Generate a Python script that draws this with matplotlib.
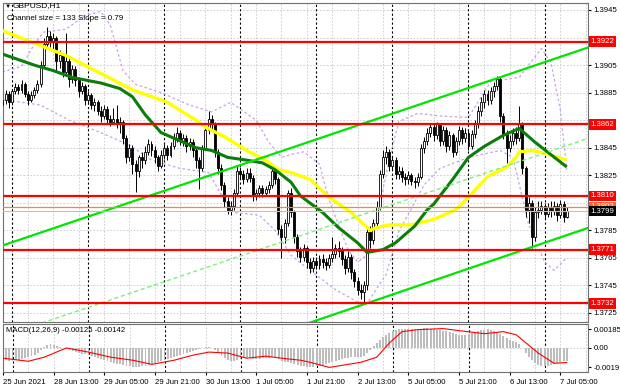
import numpy as np
import matplotlib
matplotlib.use("Agg")
import matplotlib.pyplot as plt
import matplotlib.transforms as mtransforms

plt.rcParams['font.family'] = ['Liberation Sans', 'DejaVu Sans']

# GBPUSD H1 bars, 25 Jun 2021 21:00 .. 7 Jul 2021 07:00
opens = [1.3876, 1.3880, 1.3884, 1.3878, 1.3886, 1.3889, 1.3887, 1.3891, 1.3884, 1.3880,
         1.3883, 1.3887, 1.3891, 1.3905, 1.3920, 1.3926, 1.3922, 1.3925, 1.3908, 1.3912,
         1.3900, 1.3908, 1.3895, 1.3902, 1.3894, 1.3886, 1.3890, 1.3880, 1.3883, 1.3876,
         1.3878, 1.3872, 1.3868, 1.3873, 1.3866, 1.3864, 1.3866, 1.3862, 1.3864, 1.3852,
         1.3838, 1.3845, 1.3833, 1.3828, 1.3838, 1.3836, 1.3842, 1.3848, 1.3843, 1.3838,
         1.3832, 1.3840, 1.3845, 1.3840, 1.3846, 1.3852, 1.3856, 1.3850, 1.3852, 1.3846,
         1.3849, 1.3843, 1.3836, 1.3830, 1.3845, 1.3858, 1.3866, 1.3862, 1.3842, 1.3830,
         1.3818, 1.3806, 1.3800, 1.3803, 1.3812, 1.3828, 1.3826, 1.3822, 1.3827, 1.3823,
         1.3810, 1.3812, 1.3816, 1.3812, 1.3815, 1.3818, 1.3828, 1.3822, 1.3786, 1.3780,
         1.3790, 1.3812, 1.3798, 1.3780, 1.3770, 1.3766, 1.3772, 1.3762, 1.3758, 1.3763,
         1.3760, 1.3764, 1.3762, 1.3760, 1.3765, 1.3768, 1.3772, 1.3770, 1.3764, 1.3758,
         1.3766, 1.3755, 1.3748, 1.3742, 1.3740, 1.3745, 1.3784, 1.3778, 1.3790, 1.3802,
         1.3826, 1.3838, 1.3842, 1.3832, 1.3836, 1.3826, 1.3828, 1.3824, 1.3822, 1.3825,
         1.3821, 1.3820, 1.3824, 1.3845, 1.3850, 1.3856, 1.3860, 1.3854, 1.3862, 1.3850,
         1.3858, 1.3846, 1.3854, 1.3842, 1.3850, 1.3858, 1.3852, 1.3856, 1.3846, 1.3855,
         1.3862, 1.3872, 1.3878, 1.3884, 1.3880, 1.3886, 1.3890, 1.3895, 1.3868, 1.3855,
         1.3845, 1.3850, 1.3856, 1.3852, 1.3862, 1.3830, 1.3800, 1.3805, 1.3780, 1.3798,
         1.3800, 1.3803, 1.3797, 1.3802, 1.3799, 1.3803, 1.3796, 1.3804, 1.3795]
highs = [1.3884, 1.3887, 1.3886, 1.3888, 1.3892, 1.3891, 1.3894, 1.3893, 1.3886, 1.3886,
         1.3889, 1.3894, 1.3908, 1.3925, 1.3933, 1.3930, 1.3928, 1.3926, 1.3916, 1.3914,
         1.3928, 1.3910, 1.3905, 1.3904, 1.3896, 1.3893, 1.3891, 1.3886, 1.3885, 1.3881,
         1.3880, 1.3875, 1.3876, 1.3875, 1.3869, 1.3874, 1.3876, 1.3867, 1.3865, 1.3854,
         1.3848, 1.3847, 1.3836, 1.3840, 1.3842, 1.3846, 1.3851, 1.3850, 1.3846, 1.3840,
         1.3843, 1.3848, 1.3847, 1.3849, 1.3856, 1.3860, 1.3858, 1.3855, 1.3854, 1.3852,
         1.3851, 1.3845, 1.3838, 1.3847, 1.3861, 1.3872, 1.3869, 1.3864, 1.3844, 1.3833,
         1.3820, 1.3809, 1.3806, 1.3815, 1.3832, 1.3831, 1.3829, 1.3830, 1.3830, 1.3825,
         1.3815, 1.3818, 1.3818, 1.3817, 1.3821, 1.3832, 1.3830, 1.3824, 1.3789, 1.3793,
         1.3814, 1.3816, 1.3800, 1.3782, 1.3773, 1.3775, 1.3774, 1.3765, 1.3766, 1.3766,
         1.3767, 1.3768, 1.3765, 1.3768, 1.3780, 1.3775, 1.3777, 1.3773, 1.3767, 1.3770,
         1.3768, 1.3757, 1.3751, 1.3746, 1.3748, 1.3787, 1.3788, 1.3793, 1.3806, 1.3829,
         1.3843, 1.3846, 1.3844, 1.3839, 1.3838, 1.3832, 1.3831, 1.3827, 1.3828, 1.3827,
         1.3824, 1.3827, 1.3848, 1.3853, 1.3859, 1.3863, 1.3862, 1.3864, 1.3863, 1.3861,
         1.3860, 1.3857, 1.3856, 1.3853, 1.3861, 1.3860, 1.3859, 1.3858, 1.3858, 1.3865,
         1.3875, 1.3882, 1.3887, 1.3887, 1.3889, 1.3893, 1.3897, 1.3896, 1.3870, 1.3858,
         1.3854, 1.3859, 1.3860, 1.3875, 1.3864, 1.3832, 1.3809, 1.3807, 1.3802, 1.3806,
         1.3806, 1.3805, 1.3805, 1.3806, 1.3806, 1.3805, 1.3807, 1.3806, 1.3802]
lows = [1.3872, 1.3877, 1.3874, 1.3876, 1.3884, 1.3884, 1.3885, 1.3882, 1.3876, 1.3878,
        1.3881, 1.3885, 1.3889, 1.3903, 1.3917, 1.3918, 1.3915, 1.3900, 1.3903, 1.3896,
        1.3898, 1.3889, 1.3892, 1.3890, 1.3882, 1.3884, 1.3876, 1.3877, 1.3873, 1.3872,
        1.3869, 1.3864, 1.3866, 1.3862, 1.3861, 1.3862, 1.3859, 1.3856, 1.3848, 1.3834,
        1.3835, 1.3826, 1.3813, 1.3824, 1.3830, 1.3833, 1.3840, 1.3839, 1.3834, 1.3828,
        1.3830, 1.3837, 1.3836, 1.3838, 1.3844, 1.3849, 1.3847, 1.3846, 1.3842, 1.3843,
        1.3838, 1.3830, 1.3815, 1.3828, 1.3843, 1.3855, 1.3857, 1.3838, 1.3826, 1.3814,
        1.3802, 1.3797, 1.3796, 1.3800, 1.3810, 1.3822, 1.3819, 1.3820, 1.3820, 1.3806,
        1.3807, 1.3809, 1.3809, 1.3810, 1.3812, 1.3816, 1.3819, 1.3782, 1.3765, 1.3776,
        1.3788, 1.3795, 1.3776, 1.3766, 1.3762, 1.3763, 1.3758, 1.3754, 1.3755, 1.3757,
        1.3757, 1.3758, 1.3756, 1.3758, 1.3762, 1.3765, 1.3766, 1.3760, 1.3753, 1.3755,
        1.3750, 1.3744, 1.3738, 1.3735, 1.3732, 1.3742, 1.3772, 1.3775, 1.3787, 1.3800,
        1.3823, 1.3833, 1.3828, 1.3829, 1.3822, 1.3822, 1.3820, 1.3818, 1.3819, 1.3818,
        1.3816, 1.3817, 1.3822, 1.3841, 1.3847, 1.3853, 1.3850, 1.3851, 1.3846, 1.3847,
        1.3842, 1.3843, 1.3838, 1.3840, 1.3847, 1.3848, 1.3849, 1.3843, 1.3844, 1.3852,
        1.3859, 1.3868, 1.3874, 1.3876, 1.3877, 1.3882, 1.3887, 1.3864, 1.3851, 1.3834,
        1.3842, 1.3847, 1.3848, 1.3850, 1.3826, 1.3795, 1.3790, 1.3772, 1.3777, 1.3794,
        1.3797, 1.3794, 1.3795, 1.3795, 1.3796, 1.3792, 1.3794, 1.3791, 1.3794]
closes = [1.3880, 1.3884, 1.3878, 1.3886, 1.3889, 1.3887, 1.3891, 1.3884, 1.3880, 1.3883,
          1.3887, 1.3891, 1.3905, 1.3920, 1.3926, 1.3922, 1.3925, 1.3908, 1.3912, 1.3900,
          1.3908, 1.3895, 1.3902, 1.3894, 1.3886, 1.3890, 1.3880, 1.3883, 1.3876, 1.3878,
          1.3872, 1.3868, 1.3873, 1.3866, 1.3864, 1.3866, 1.3862, 1.3864, 1.3852, 1.3838,
          1.3845, 1.3833, 1.3828, 1.3838, 1.3836, 1.3842, 1.3848, 1.3843, 1.3838, 1.3832,
          1.3840, 1.3845, 1.3840, 1.3846, 1.3852, 1.3856, 1.3850, 1.3852, 1.3846, 1.3849,
          1.3843, 1.3836, 1.3830, 1.3845, 1.3858, 1.3866, 1.3862, 1.3842, 1.3830, 1.3818,
          1.3806, 1.3800, 1.3803, 1.3812, 1.3828, 1.3826, 1.3822, 1.3827, 1.3823, 1.3810,
          1.3812, 1.3816, 1.3812, 1.3815, 1.3818, 1.3828, 1.3822, 1.3786, 1.3780, 1.3790,
          1.3812, 1.3798, 1.3780, 1.3770, 1.3766, 1.3772, 1.3762, 1.3758, 1.3763, 1.3760,
          1.3764, 1.3762, 1.3760, 1.3765, 1.3768, 1.3772, 1.3770, 1.3764, 1.3758, 1.3766,
          1.3755, 1.3748, 1.3742, 1.3740, 1.3745, 1.3784, 1.3778, 1.3790, 1.3802, 1.3826,
          1.3838, 1.3842, 1.3832, 1.3836, 1.3826, 1.3828, 1.3824, 1.3822, 1.3825, 1.3821,
          1.3820, 1.3824, 1.3845, 1.3850, 1.3856, 1.3860, 1.3854, 1.3862, 1.3850, 1.3858,
          1.3846, 1.3854, 1.3842, 1.3850, 1.3858, 1.3852, 1.3856, 1.3846, 1.3855, 1.3862,
          1.3872, 1.3878, 1.3884, 1.3880, 1.3886, 1.3890, 1.3895, 1.3868, 1.3855, 1.3845,
          1.3850, 1.3856, 1.3852, 1.3862, 1.3830, 1.3800, 1.3805, 1.3780, 1.3798, 1.3800,
          1.3803, 1.3797, 1.3802, 1.3799, 1.3803, 1.3796, 1.3804, 1.3795, 1.3799]

# moving averages (bar index, price)
slow_ma_idx = [0, 20, 31, 41, 52, 61, 64, 70, 77, 83, 87, 91, 97, 103, 110, 116, 118,
               122, 129, 136, 143, 147, 153, 159, 162, 163, 167, 171, 178]
slow_ma = [1.3930, 1.3912, 1.3899, 1.3887, 1.3878, 1.3865, 1.3860, 1.3853, 1.3843, 1.3836,
           1.3829, 1.3827, 1.3822, 1.3809, 1.3798, 1.3785, 1.3787, 1.3789, 1.3789, 1.3793,
           1.3800, 1.3809, 1.3824, 1.3831, 1.3838, 1.3842, 1.3843, 1.3841, 1.3836]
fast_ma_idx = [0, 10, 16, 22, 31, 37, 41, 45, 50, 55, 61, 66, 71, 77, 82, 86, 91, 94,
               101, 106, 112, 115, 120, 124, 130, 134, 136, 142, 147, 152, 158, 162,
               163, 168, 173, 178]
fast_ma = [1.3913, 1.3905, 1.3901, 1.3896, 1.3892, 1.3888, 1.3882, 1.3869, 1.3856, 1.3851,
           1.3845, 1.3843, 1.3838, 1.3836, 1.3834, 1.3829, 1.3820, 1.3810, 1.3798, 1.3787,
           1.3776, 1.3769, 1.3771, 1.3776, 1.3788, 1.3800, 1.3804, 1.3822, 1.3838, 1.3846,
           1.3854, 1.3858, 1.3859, 1.3849, 1.3840, 1.3831]

# envelope bands (dotted purple)
band_up_idx = [0, 6, 10, 13, 20, 26, 31, 34, 38, 42, 50, 59, 66, 72, 80, 84, 88, 91, 95,
               100, 103, 109, 112, 115, 118, 122, 125, 131, 138, 147, 154, 163, 170, 173,
               176, 178]
band_up = [1.3900, 1.3904, 1.3920, 1.3929, 1.3931, 1.3941, 1.3944, 1.3934, 1.3901, 1.3891,
           1.3885, 1.3876, 1.3871, 1.3878, 1.3865, 1.3849, 1.3838, 1.3840, 1.3842, 1.3833,
           1.3807, 1.3771, 1.3762, 1.3767, 1.3793, 1.3836, 1.3864, 1.3870, 1.3868, 1.3867,
           1.3893, 1.3896, 1.3917, 1.3907, 1.3872, 1.3829]
band_lo_idx = [0, 12, 21, 31, 40, 47, 56, 65, 70, 73, 81, 86, 91, 97, 105, 112, 115, 121,
               125, 133, 138, 147, 157, 161, 166, 171, 174, 178]
band_lo = [1.3880, 1.3876, 1.3865, 1.3856, 1.3847, 1.3836, 1.3830, 1.3827, 1.3807, 1.3798,
           1.3796, 1.3785, 1.3767, 1.3756, 1.3742, 1.3733, 1.3732, 1.3753, 1.3784, 1.3818,
           1.3830, 1.3838, 1.3843, 1.3838, 1.3789, 1.3762, 1.3756, 1.3765]

# equidistant channel anchors (bar index, price)
channel_idx = [0, 185]
channel_upper = [1.3774, 1.3918]
channel_mid = [1.3708, 1.3852]
channel_lower = [1.3642, 1.3787]

levels = [1.3922, 1.3862, 1.3810, 1.3771, 1.3732]
ask_price = 1.3802
bid_price = 1.3799

# MACD(12,26,9)
macd_main = [-0.0012, -0.0012, -0.0013, -0.0013, -0.0012, -0.0012, -0.0011, -0.0010, -0.0009,
             -0.0008, -0.0007, -0.0005, -0.0002,
             0.0001, 0.0003, 0.0004, 0.0003, 0.0002,
             0.0001, 0.0000, -0.0001, -0.0002, -0.0003,
             -0.0004, -0.0005, -0.0006, -0.0006, -0.0007,
             -0.0008, -0.0009, -0.0010, -0.0011, -0.0012, -0.0013, -0.0014, -0.0015,
             -0.0016, -0.0016, -0.0017, -0.0018, -0.0018, -0.0019, -0.0019, -0.0019, -0.0018,
             -0.0018, -0.0017, -0.0016, -0.0015,
             -0.0014, -0.0013, -0.0012, -0.0011, -0.0010, -0.0009, -0.0008, -0.0007, -0.0006,
             -0.0005, -0.0004, -0.0003, -0.0002,
             -0.0001, 0.0000, 0.0001, 0.0001, 0.0000, -0.0002, -0.0005,
             -0.0008, -0.0010, -0.0012, -0.0013, -0.0013, -0.0012, -0.0011,
             -0.0010, -0.0010, -0.0010, -0.0011, -0.0011, -0.0011, -0.0010, -0.0010, -0.0010,
             -0.0009, -0.0009, -0.0011, -0.0013, -0.0014, -0.0014,
             -0.0015, -0.0016, -0.0017, -0.0018, -0.0018, -0.0019, -0.0019, -0.0019, -0.0018,
             -0.0018,
             -0.0017, -0.0016, -0.0015, -0.0014, -0.0013, -0.0012, -0.0011, -0.0010, -0.0010,
             -0.0009, -0.0009,
             -0.0009, -0.0009, -0.0008, -0.0005,
             -0.0002, 0.0002, 0.0005, 0.0008, 0.0011, 0.0013, 0.0015,
             0.0017, 0.0018, 0.0019, 0.0019, 0.0019, 0.0019, 0.0019, 0.0019,
             0.0019, 0.0019, 0.0020, 0.0020, 0.0019, 0.0019, 0.0018, 0.0018, 0.0017, 0.0017,
             0.0016, 0.0015, 0.0014, 0.0013, 0.0013, 0.0013, 0.0014,
             0.0015, 0.0016, 0.0017, 0.0018, 0.0018, 0.0019, 0.0018, 0.0017,
             0.0016, 0.0014, 0.0012, 0.0010, 0.0008, 0.0007, 0.0006,
             0.0004, 0.0000, -0.0005, -0.0009, -0.0012, -0.0015,
             -0.0017, -0.0018, -0.0018, -0.0018, -0.0017, -0.0016, -0.0015, -0.0014, -0.0013,
             -0.00125]
signal_idx = [0, 8, 13, 20, 27, 34, 41, 47, 54, 60, 65, 71, 77, 83, 88, 94, 97, 103, 113,
              118, 122, 126, 131, 139, 144, 152, 158, 162, 169, 174, 178]
signal = [-0.0010, -0.0013, -0.0009, 0.0000, -0.0004, -0.0009, -0.0012, -0.0016, -0.0012,
          -0.0007, -0.0004, -0.0005, -0.0010, -0.0008, -0.0010, -0.0012, -0.0014, -0.0019,
          -0.0014, -0.0009, 0.0005, 0.0016, 0.0018, 0.0019, 0.0017, 0.0014, 0.0016, 0.0013,
          -0.0005, -0.0015, -0.00142]

day_starts = [3, 27, 51, 75, 99, 123, 147, 171]
time_tick_idx = [0, 16, 32, 48, 64, 80, 96, 112, 128, 144, 160, 176]
time_tick_labels = ["25 Jun 2021", "28 Jun 13:00", "29 Jun 05:00", "29 Jun 21:00",
                    "30 Jun 13:00", "1 Jul 05:00", "1 Jul 21:00", "2 Jul 13:00",
                    "5 Jul 05:00", "5 Jul 21:00", "6 Jul 13:00", "7 Jul 05:00"]
price_ticks = [1.3725, 1.3745, 1.3765, 1.3785, 1.3805, 1.3825, 1.3845, 1.3865, 1.3885,
               1.3905, 1.3925, 1.3945]
# these tick labels sit under the level boxes in the terminal
hidden_ticks = [1.3805, 1.3865, 1.3925]
macd_ticks = [-0.0019, 0.0, 0.00185]
macd_tick_labels = ["-0.0019", "0.00", "0.00185"]

assert len(opens) == len(highs) == len(lows) == len(closes) == len(macd_main)

W, H = 620, 388
fig = plt.figure(figsize=(W / 100, H / 100), dpi=100)
ax = fig.add_axes([3 / W, 1 - 322 / H, 585 / W, 319 / H])
axm = fig.add_axes([3 / W, 1 - 372 / H, 585 / W, 48 / H])

xlim = (0.16, 184.7)
grid_kw = dict(color="#c8c8c8", lw=0.6, ls=(0, (2, 2)), zorder=0)

o = np.array(opens)
h = np.array(highs)
l = np.array(lows)
c = np.array(closes)
x = np.arange(len(c))

for a in (ax, axm):
    a.set_xlim(*xlim)
    for g in np.arange(0, 185, 8):
        a.axvline(g, **grid_kw)
    for d in day_starts:
        a.axvline(d, color="black", lw=0.8, ls=(0, (2, 2)), zorder=1)
    for s in a.spines.values():
        s.set_color("#707070")
        s.set_linewidth(0.8)
    a.yaxis.tick_right()
    a.tick_params(axis="y", length=2, labelsize=5.6, pad=2, colors="black")

# main price panel
ax.set_ylim(1.3945 - 312 / 13772.7, 1.3945 + 7 / 13772.7)
ax.set_yticks(price_ticks)
ax.set_yticklabels(["" if p in hidden_ticks else f"{p:.4f}" for p in price_ticks])
for p in price_ticks:
    ax.axhline(p, **grid_kw)
ax.set_xticks([])

ax.plot(band_up_idx, band_up, color="#c9a0e8", lw=0.9, ls=(0, (2, 2)), zorder=2)
ax.plot(band_lo_idx, band_lo, color="#c9a0e8", lw=0.9, ls=(0, (2, 2)), zorder=2)

ax.vlines(x, l, h, color="black", lw=0.7, zorder=3)
up = c >= o
ax.bar(x, np.abs(c - o), bottom=np.minimum(o, c), width=0.62,
       color=np.where(up, "white", "black"), edgecolor="black", linewidth=0.6, zorder=4)

ax.plot(slow_ma_idx, slow_ma, color="#ffff00", lw=2.4, zorder=5, solid_capstyle="butt")
ax.plot(fast_ma_idx, fast_ma, color="#0a7d0a", lw=2.2, zorder=5, solid_capstyle="butt")

ax.plot(channel_idx, channel_upper, color="#00e600", lw=1.6, zorder=5)
ax.plot(channel_idx, channel_mid, color="#7ef07e", lw=1.0, ls=(0, (3, 2)), zorder=5)
ax.plot(channel_idx, channel_lower, color="#00e600", lw=1.6, zorder=5)

for lv in levels:
    ax.axhline(lv, color="#ff0000", lw=1.6, zorder=6)
ax.axhline(ask_price, color="#ff8040", lw=0.9, zorder=6)
ax.axhline(bid_price, color="#c0c0c0", lw=0.8, zorder=6)

trans = mtransforms.blended_transform_factory(ax.transAxes, ax.transData)
box = dict(boxstyle="square,pad=0.22", lw=0)
for lv in levels:
    ax.text(1.004, lv, f"{lv:.4f}", transform=trans, ha="left", va="center", fontsize=5.6,
            color="white", bbox=dict(box, fc="#ff0000"), zorder=10, clip_on=False)
ax.text(1.004, ask_price, f"{ask_price:.4f}", transform=trans, ha="left", va="center",
        fontsize=5.6, color="white", bbox=dict(box, fc="#ff6030"), zorder=10, clip_on=False)
ax.text(1.004, bid_price, f"{bid_price:.4f}", transform=trans, ha="left", va="center",
        fontsize=5.6, color="white", bbox=dict(box, fc="black"), zorder=11, clip_on=False)

# MACD panel
axm.set_ylim(-0.00235, 0.00235)
axm.set_yticks(macd_ticks)
axm.set_yticklabels(macd_tick_labels)
axm.axhline(0, **grid_kw)
axm.bar(x, macd_main, width=0.6, color="#bdbdbd", zorder=2)
axm.plot(signal_idx, signal, color="#ff0000", lw=0.8, zorder=3)
axm.set_xticks(time_tick_idx)
axm.set_xticklabels(time_tick_labels, ha="left", fontsize=5.6)
axm.tick_params(axis="x", length=2, pad=3)

fig.text(5 / W, 1 - 6 / H, "\u25bc", fontsize=4.5, va="center", ha="left")
fig.text(13 / W, 1 - 6 / H, "GBPUSD,H1", fontsize=6, va="center", ha="left")
fig.text(7 / W, 1 - 18 / H, "Channel size = 133 Slope = 0.79", fontsize=5.8, va="center", ha="left")
fig.text(6 / W, 1 - 330 / H, "MACD(12,26,9) -0.00125 -0.00142", fontsize=5.6, va="center", ha="left")

fig.savefig("out.png", dpi=100, facecolor="white")
